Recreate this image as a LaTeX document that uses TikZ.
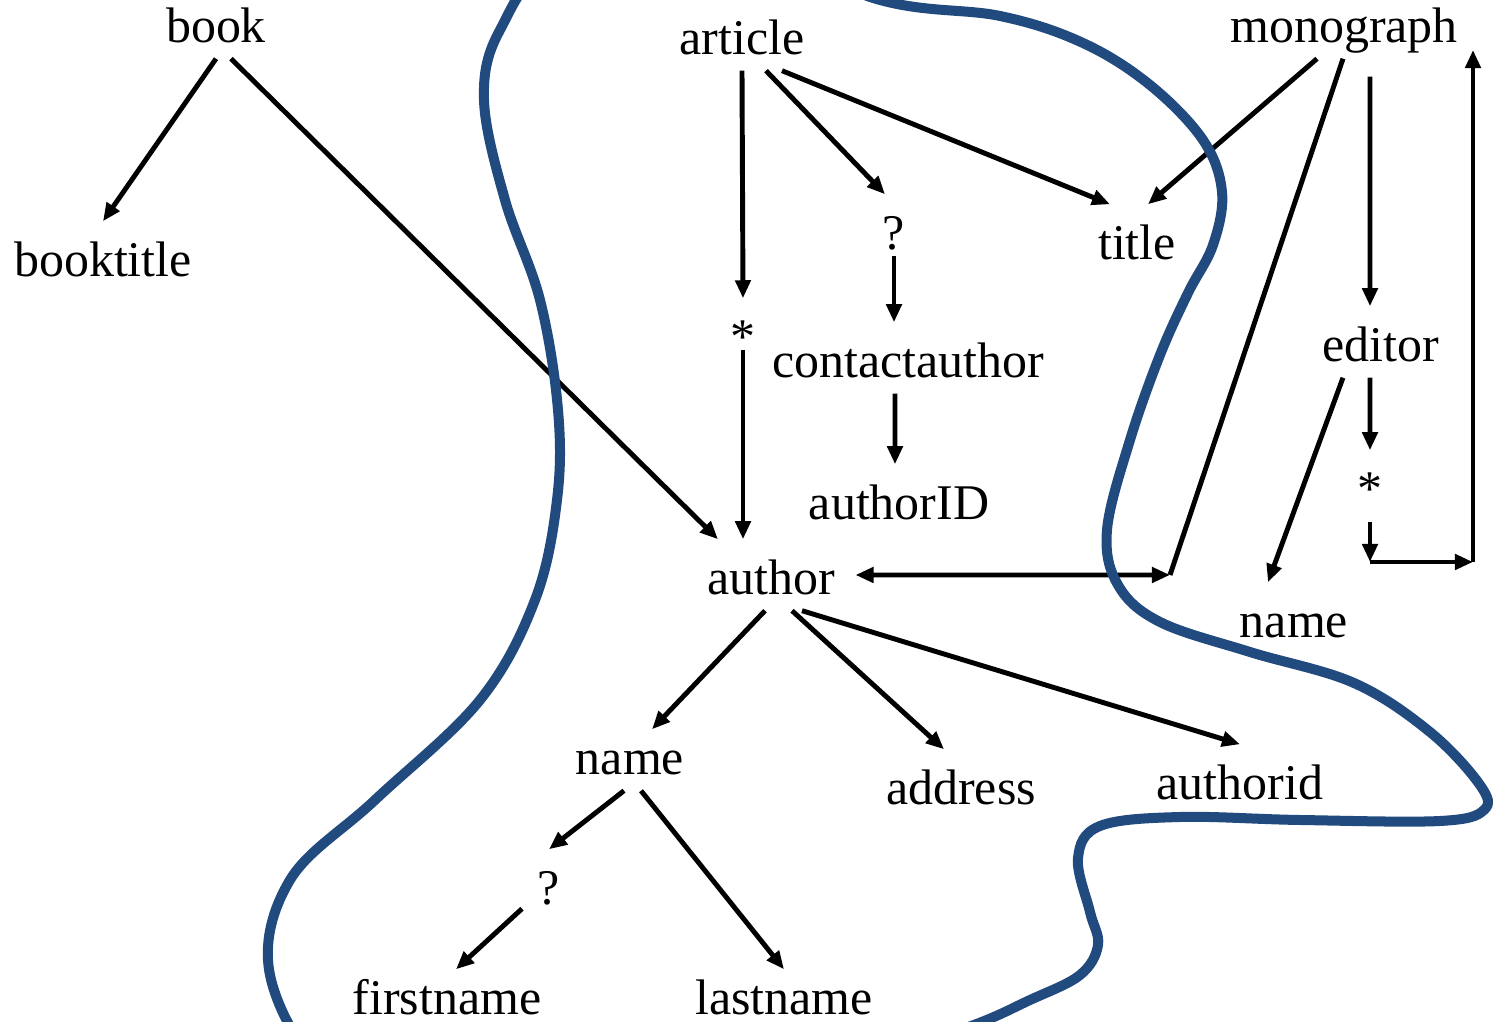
\documentclass[tikz,border=0pt]{standalone}
\usepackage{fontspec}
\setmainfont{Liberation Serif}
\usetikzlibrary{arrows.meta}
\definecolor{blobblue}{RGB}{33,74,126}

\begin{document}
\begin{tikzpicture}[x=0.01cm, y=-0.01cm,
    lbl/.style={anchor=base, font=\fontsize{14.2pt}{17pt}\selectfont, inner xsep=0.2cm, inner ysep=0.1cm, text height=0.45cm, text depth=0.05cm},
    link/.style={line width=1.4pt},
    >={Triangle[length=1.8mm, width=1.5mm]}]
    \useasboundingbox (0,0) rectangle (1493,1022);

    % Nodes
    \node[lbl] (book) at (216,43) {book};
    \node[lbl] (booktitle) at (103,277) {booktitle};
    \node[lbl] (article) at (742,55) {article};
    \node[lbl] (monograph) at (1344,43) {monograph};
    \node[lbl] (opt) at (894,250) {?};
    \node[lbl] (title) at (1137,260) {title};
    \node[lbl] (many) at (743,354) {*};
    \node[lbl] (contact) at (908,378) {contactauthor};
    \node[lbl] (editor) at (1381,362) {editor};
    \node[lbl] (authorID) at (899,520) {authorID};
    \node[lbl] (many2) at (1370,506) {*};
    \node[lbl] (author) at (771,595) {author};
    \node[lbl] (ename) at (1294,638) {name};
    \node[lbl] (name) at (630,775) {name};
    \node[lbl] (address) at (961,805) {address};
    \node[lbl] (aid) at (1240,800) {authorid};
    \node[lbl] (opt2) at (549,905) {?};
    \node[lbl] (firstname) at (447,1015) {firstname};
    \node[lbl] (lastname) at (784,1015) {lastname};

    % Bends of the loop
    \coordinate (corner) at (1170,575);
    \coordinate (c2) at (1370,562);
    \coordinate (c3) at (1473,562);
    \coordinate (c4) at (1473,50);

    % Connections
    \draw[link, ->] (book.south) -- (booktitle.north);
    \draw[link, ->] ([xshift=0.15cm]book.south) -- ([xshift=-0.53cm]author.north);
    \draw[link, ->] (article.south) -- (many.north);
    \draw[link, ->] ([xshift=0.24cm]article.south) -- ([xshift=-0.09cm]opt.north);
    \draw[link, ->] ([xshift=0.4cm]article.south) -- ([xshift=-0.27cm]title.north);
    \draw[link, ->] ([xshift=-0.27cm]monograph.south) -- ([xshift=0.11cm]title.north);
    \draw[link] ([xshift=-0.01cm]monograph.south) -- (corner);
    \draw[link, ->] ([xshift=0.26cm, yshift=-0.18cm]monograph.south) -- ([xshift=-0.11cm]editor.north);
    \draw[link, ->] ([xshift=-0.11cm]editor.south) -- (many2.north);
    \draw[link, ->] ([xshift=-0.38cm]editor.south) -- ([xshift=-0.26cm]ename.north);
    \draw[link, ->] (many2.south) -- (c2);
    \draw[link, ->] (c2) -- (c3);
    \draw[link, ->] (c3) -- (c4);
    \draw[link, <->] (author.east) -- (corner);
    \draw[link, ->] ([yshift=0.1cm]opt.south) -- (opt.south |- contact.north);
    \draw[link, ->] ([xshift=-0.13cm]contact.south) -- ([xshift=-0.04cm]authorID.north);
    \draw[link, ->] ([yshift=0.2cm]many.south) -- (many.south |- author.north);
    \draw[link, ->] ([xshift=-0.06cm]author.south) -- ([xshift=0.22cm, yshift=-0.1cm]name.north);
    \draw[link, ->] ([xshift=0.21cm]author.south) -- ([xshift=-0.17cm]address.north);
    \draw[link, ->] ([xshift=0.31cm]author.south) -- (aid.north);
    \draw[link, ->] ([xshift=-0.06cm]name.south) -- (opt2.north);
    \draw[link, ->] ([xshift=-0.27cm, yshift=0.12cm]opt2.south) -- ([xshift=0.09cm, yshift=-0.1cm]firstname.north);
    \draw[link, ->] ([xshift=0.11cm]name.south) -- ([yshift=-0.1cm]lastname.north);

    % Boundary
    \begin{scope}
        \clip (0,0) rectangle (1493,1022);
        \draw[blobblue, line width=0.1cm] plot[smooth cycle, tension=0.6] coordinates {
            (330,1075) (270,975) (290,880) (375,800) (480,700) (535,600) (557,500)
            (558,410) (540,300) (505,200) (484,100) (500,30) (560,-40) (720,-60)
            (880,0) (1000,16) (1083,43) (1150,85) (1203,140) (1222,192) (1213,245)
            (1188,293) (1160,355) (1130,440) (1107,530) (1118,585) (1160,622)
            (1250,652) (1354,683) (1430,732) (1480,785) (1484,810) (1440,821)
            (1300,820) (1180,817) (1100,826) (1078,858) (1090,912) (1098,945)
            (1080,975) (1030,1000) (960,1030) (800,1080) (450,1110)};
    \end{scope}
\end{tikzpicture}
\end{document}
